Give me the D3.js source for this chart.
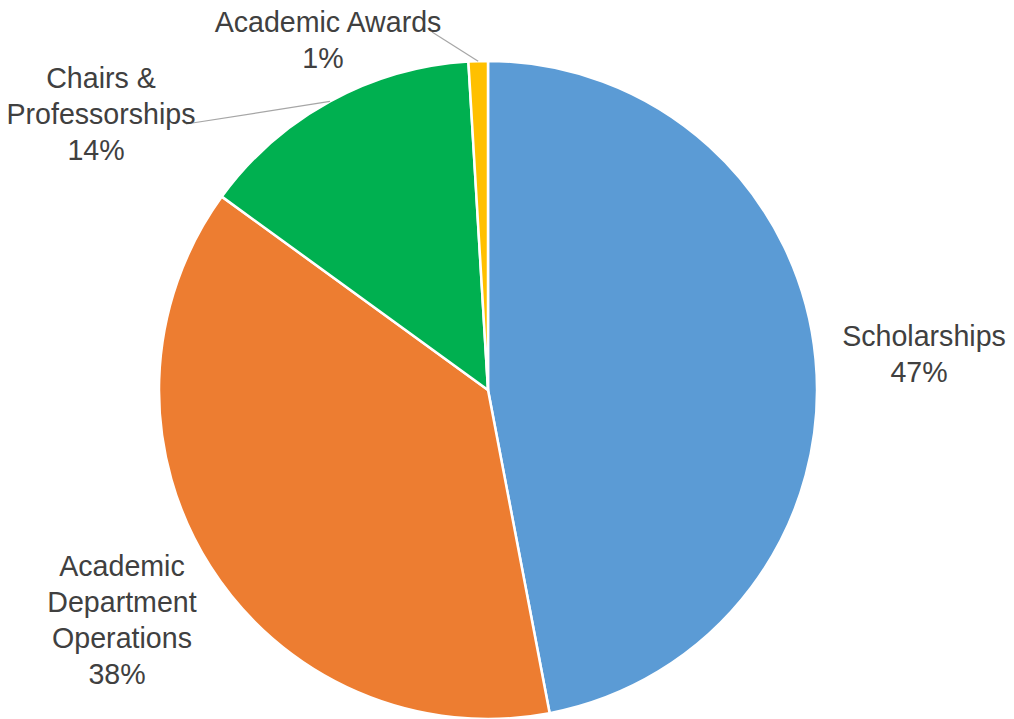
<!DOCTYPE html>
<html>
<head>
<meta charset="utf-8">
<script src="https://cdn.jsdelivr.net/npm/d3@7"></script>
<style>
  html, body { margin: 0; padding: 0; background: #fff; }
  svg { display: block; }
</style>
</head>
<body>
<svg id="chart" width="1014" height="719"></svg>
<script>
// Data
const categories = ["Scholarships", "Academic Department Operations", "Chairs & Professorships", "Academic Awards"];
const labelLines = [["Scholarships"], ["Academic", "Department", "Operations"], ["Chairs &", "Professorships"], ["Academic Awards"]];
const values = [47.0, 38.0, 14.05, 0.95];
const percentLabels = ["47%", "38%", "14%", "1%"];
const colors = ["#5B9BD5", "#ED7D31", "#00B050", "#FFC000"];

// Layout (label anchor: center x, first baseline y; leader start point or null)
const layout = {
  cx: 488, cy: 390, r: 329,
  fontSize: 28.6, lineH: 36, pctShift: -5,
  labels: [
    { x: 924, y: 346, leader: null },
    { x: 122, y: 576, leader: null },
    { x: 101, y: 88, leader: [186, 124] },
    { x: 328, y: 32, leader: [432, 32] }
  ]
};

const svg = d3.select("#chart");
const g = svg.append("g").attr("transform", `translate(${layout.cx},${layout.cy})`);

const pie = d3.pie().sort(null).value(d => d);
const arcs = pie(values);
const arc = d3.arc().innerRadius(0).outerRadius(layout.r);

g.selectAll("path.slice")
  .data(arcs)
  .join("path")
  .attr("class", "slice")
  .attr("d", arc)
  .attr("fill", (d, i) => colors[i])
  .attr("stroke", "#fff")
  .attr("stroke-width", 2.5)
  .attr("stroke-linejoin", "round");

// Leader lines
arcs.forEach((d, i) => {
  const L = layout.labels[i];
  if (!L.leader) return;
  const mid = (d.startAngle + d.endAngle) / 2;
  const ex = layout.cx + layout.r * Math.sin(mid);
  const ey = layout.cy - layout.r * Math.cos(mid);
  svg.append("line")
    .attr("x1", L.leader[0]).attr("y1", L.leader[1])
    .attr("x2", ex).attr("y2", ey)
    .attr("stroke", "#A6A6A6").attr("stroke-width", 1.2);
});

// Labels
arcs.forEach((d, i) => {
  const L = layout.labels[i];
  const lines = labelLines[i].concat([percentLabels[i]]);
  const t = svg.append("text")
    .attr("text-anchor", "middle")
    .attr("font-family", "'Liberation Sans', Arial, sans-serif")
    .attr("font-size", layout.fontSize)
    .attr("fill", "#404040");
  lines.forEach((s, k) => {
    const isPct = k === lines.length - 1;
    t.append("tspan")
      .attr("x", L.x + (isPct ? layout.pctShift : 0))
      .attr("y", L.y + k * layout.lineH)
      .text(s);
  });
});
</script>
</body>
</html>
